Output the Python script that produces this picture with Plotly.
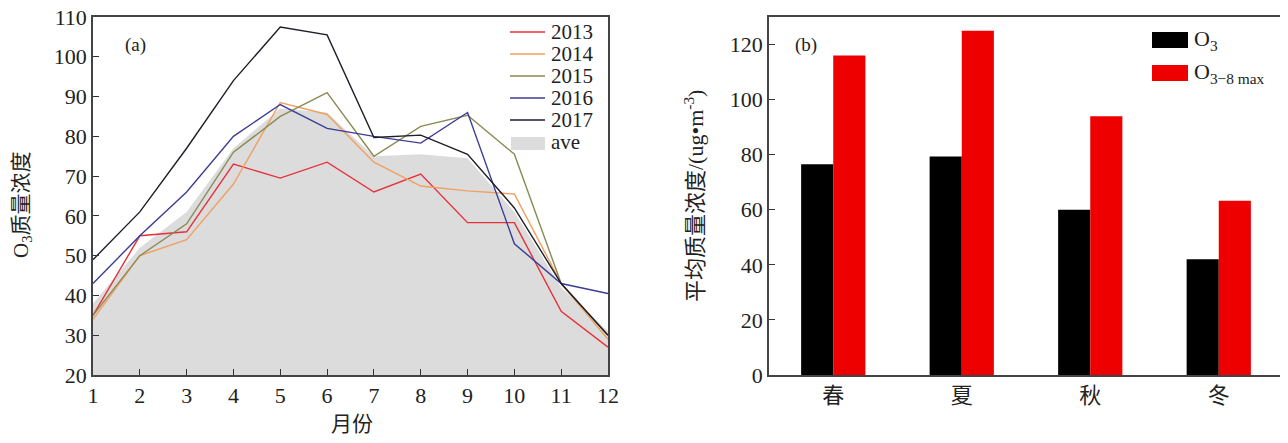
import plotly.graph_objects as go

months = list(range(1, 13))
y2013 = [35, 55, 56, 73, 69.5, 73.5, 66, 70.5, 58.3, 58.3, 36, 27]
y2014 = [34, 50, 54, 68, 88.5, 85.5, 73.5, 67.5, 66.3, 65.5, 43, 29]
y2015 = [35, 50, 58, 76, 85, 91, 75, 82.5, 85.3, 75.5, 43, 30]
y2016 = [43, 55, 66, 80, 88, 82, 80, 78.3, 86, 53, 43, 40.5]
y2017 = [49, 61, 77, 94, 107.5, 105.5, 79.7, 80.3, 75.5, 62, 43, 30]
yave = [38, 52, 61, 77, 87, 86, 75, 75.5, 74.5, 61, 42, 31]

seasons = ["春", "夏", "秋", "冬"]
o3 = [76.5, 79.3, 60, 42]
o3_8max = [116, 125, 94, 63.3]

serif = "Liberation Serif, Noto Sans CJK SC, serif"
W, H = 1288, 443
OFF = 8  # page body margin


def px(sx):
    return (sx - OFF) / W


def py(sy):
    return 1 - (sy - OFF) / H


fig = go.Figure()

fig.add_trace(go.Scatter(x=months, y=yave, name="ave", mode="lines", fill="tozeroy",
                         fillcolor="#dcdcdc", line=dict(width=0, color="#dcdcdc"),
                         xaxis="x", yaxis="y", showlegend=False))
series = [("2013", y2013, "#e8303a"), ("2014", y2014, "#f0a060"), ("2015", y2015, "#8a8a55"),
          ("2016", y2016, "#3c3c96"), ("2017", y2017, "#1e1e28")]
for name, ys, c in series:
    fig.add_trace(go.Scatter(x=months, y=ys, name=name, mode="lines",
                             line=dict(color=c, width=1.4), xaxis="x", yaxis="y", showlegend=False))

fig.add_trace(go.Bar(x=seasons, y=o3, name="O3", marker=dict(color="#000000", line=dict(width=0)),
                     xaxis="x2", yaxis="y2", showlegend=False))
fig.add_trace(go.Bar(x=seasons, y=o3_8max, name="O3-8max", marker=dict(color="#ee0000", line=dict(width=0)),
                     xaxis="x2", yaxis="y2", showlegend=False))

axcol = "#444444"
common = dict(showline=True, linecolor=axcol, linewidth=1.5, mirror=True, ticks="inside",
              tickcolor="#333", ticklen=6, showgrid=False, zeroline=False, automargin=False,
              ticklabeloverflow="allow",
              tickfont=dict(family=serif, size=22, color="#222"))
ydom = [py(375), py(17)]
fig.update_layout(
    width=W, height=H, margin=dict(l=0, r=0, t=0, b=0, autoexpand=False),
    plot_bgcolor="white", paper_bgcolor="white", showlegend=False,
    barmode="group", bargap=0.5, bargroupgap=0,
    xaxis=dict(domain=[px(93), px(608)], range=[1, 12], dtick=1, **common),
    yaxis=dict(domain=ydom, range=[20, 110], dtick=10, **common),
    xaxis2=dict(domain=[px(769), px(1283)], anchor="y2",
                **{k: v for k, v in common.items() if k != "ticks"}, ticks="", range=[-0.5, 3.5]),
    yaxis2=dict(domain=ydom, anchor="x2", range=[0, 130], dtick=20, **common),
    font=dict(family=serif),
)


def ann(text, x, y, size, xanchor="left", angle=0):
    fig.add_annotation(text=text, x=px(x), y=py(y), xref="paper", yref="paper",
                       xanchor=xanchor, yanchor="middle", showarrow=False, textangle=angle,
                       font=dict(family=serif, size=size, color="#222"))


# axis titles
ann("月份", 352, 424, 21, xanchor="center")
ann("O<sub>3</sub>质量浓度", 22, 205, 21, xanchor="center", angle=-90)
ann("平均质量浓度/(ug•m<sup>-3</sup>)", 694, 196, 22, xanchor="center", angle=-90)
ann("(a)", 123, 45, 19)
ann("(b)", 793, 45, 19)

# legend for line panel
leg_y = [32, 54, 76, 98, 120]
for (name, ys, c), yc in zip(series, leg_y):
    fig.add_shape(type="line", xref="paper", yref="paper", x0=px(510), x1=px(545),
                  y0=py(yc), y1=py(yc), line=dict(color=c, width=1.6))
    ann(name, 549, yc, 21)
fig.add_shape(type="rect", xref="paper", yref="paper", x0=px(511), x1=px(545),
              y0=py(150), y1=py(137), fillcolor="#dcdcdc", line=dict(width=0))
ann("ave", 549, 142, 21)

# legend for bar panel
for i, (lab, col) in enumerate([("O<sub>3</sub>", "#000000"), ("O<sub>3−8 max</sub>", "#ee0000")]):
    yc = 40 + i * 33
    fig.add_shape(type="rect", xref="paper", yref="paper",
                  x0=px(1152), x1=px(1188), y0=py(yc + 8), y1=py(yc - 8),
                  fillcolor=col, line=dict(width=0))
    ann(lab, 1192, yc, 22)

fig.write_html("out.html")
